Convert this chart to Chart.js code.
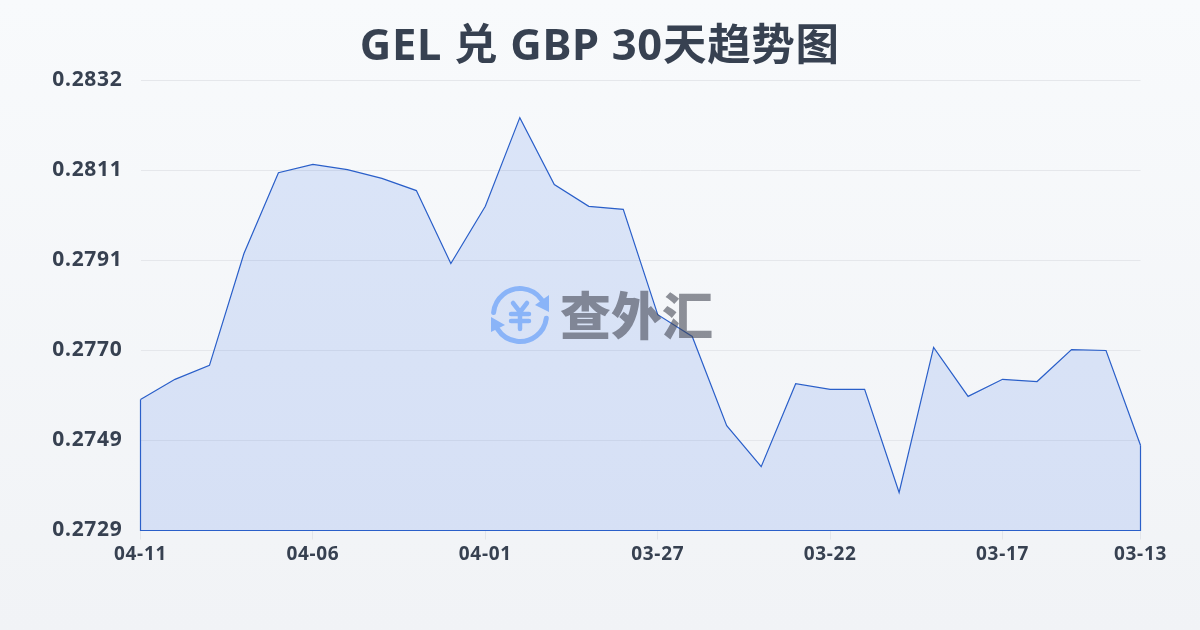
<!DOCTYPE html>
<html>
<head>
<meta charset="utf-8">
<script src="https://cdn.jsdelivr.net/npm/chart.js@4"></script>
<style>
    html, body { margin: 0; padding: 0; width: 1200px; height: 630px; overflow: hidden; }
    body { background: linear-gradient(180deg, #f8fafc 0%, #f1f3f6 100%); }
    #wrap { position: relative; width: 1200px; height: 630px; }
</style>
</head>
<body>
<div id="wrap"><canvas id="rate-chart" width="1200" height="630"></canvas></div>
<script>
    const titleText = 'GEL 兑 GBP 30天趋势图';
    const dates = ['04-11', '04-10', '04-09', '04-08', '04-07', '04-06', '04-05', '04-04', '04-03', '04-02',
        '04-01', '03-31', '03-30', '03-29', '03-28', '03-27', '03-26', '03-25', '03-24', '03-23',
        '03-22', '03-21', '03-20', '03-19', '03-18', '03-17', '03-16', '03-15', '03-14', '03-13'];
    const rates = [0.27590, 0.27636, 0.27668, 0.27924, 0.28109, 0.28128, 0.28116, 0.28096, 0.28068, 0.27901,
        0.28032, 0.28235, 0.28082, 0.28032, 0.28025, 0.27784, 0.27734, 0.27530, 0.27436, 0.27626,
        0.27613, 0.27613, 0.27377, 0.27709, 0.27597, 0.27636, 0.27631, 0.27704, 0.27702, 0.27485];
    const xTickLabels = ['04-11', '04-06', '04-01', '03-27', '03-22', '03-17', '03-13'];
    const yTickLabels = ['0.2729', '0.2749', '0.2770', '0.2791', '0.2811', '0.2832'];
    const yMin = 0.2729;
    const yMax = 0.2832;

    const FONT = "'Noto Sans', 'Noto Sans CJK SC', sans-serif";
    const LINE = '#2a5fc9';

    const setupPlugin = {
        id: 'setup',
        beforeDraw(chart) {
            // reference text runs slightly wider than the plain font
            chart.ctx.letterSpacing = '0.7px';
            // tick labels get clipped to the axis box, so let it reach the page edge
            chart.scales.y.left = 0;
        },
    };

    // closes the area outline: down the sides and along the baseline
    const outlinePlugin = {
        id: 'outline',
        afterDatasetsDraw(chart) {
            const pts = chart.getDatasetMeta(0).data;
            const base = chart.scales.y.bottom;
            const c = chart.ctx;
            c.save();
            c.strokeStyle = LINE;
            c.lineWidth = 1.2;
            c.beginPath();
            c.moveTo(pts[0].x, pts[0].y);
            c.lineTo(pts[0].x, base);
            c.lineTo(pts[pts.length - 1].x, base);
            c.lineTo(pts[pts.length - 1].x, pts[pts.length - 1].y);
            c.stroke();
            c.restore();
        },
    };

    // site watermark, centre of the plot
    const watermarkPlugin = {
        id: 'watermark',
        afterDatasetsDraw(chart) {
            const c = chart.ctx;
            c.save();
            c.letterSpacing = '0px';
            c.globalAlpha = 0.58;
            c.fillStyle = '#3f4450';
            c.font = "900 51px 'Noto Sans CJK SC'";
            c.textAlign = 'left';
            c.textBaseline = 'middle';
            c.fillText('查外汇', 560, 316);
            c.restore();

            c.save();
            c.strokeStyle = '#8ab4f8';
            c.fillStyle = '#8ab4f8';
            c.lineWidth = 5;
            c.lineCap = 'round';
            c.beginPath();
            c.arc(520, 315, 26.5, Math.PI * 1.03, Math.PI * 1.8);
            c.stroke();
            c.beginPath();
            c.arc(520, 315, 26.5, Math.PI * 0.04, Math.PI * 0.82);
            c.stroke();
            c.beginPath();
            c.moveTo(549, 295); c.lineTo(549, 312); c.lineTo(535, 305);
            c.closePath(); c.fill();
            c.beginPath();
            c.moveTo(491, 317); c.lineTo(491, 332); c.lineTo(505, 325);
            c.closePath(); c.fill();
            c.lineWidth = 4.5;
            c.beginPath();
            c.moveTo(513, 303); c.lineTo(520, 312); c.lineTo(527, 303);
            c.moveTo(511, 314); c.lineTo(529, 314);
            c.moveTo(511, 321); c.lineTo(529, 321);
            c.moveTo(520, 312); c.lineTo(520, 329);
            c.stroke();
            c.restore();
        },
    };

    new Chart(document.getElementById('rate-chart'), {
        type: 'line',
        data: {
            labels: dates,
            datasets: [{
                data: rates,
                borderColor: LINE,
                borderWidth: 1.2,
                backgroundColor: 'rgba(37,99,235,0.135)',
                fill: 'start',
                tension: 0,
                pointRadius: 0,
            }],
        },
        plugins: [setupPlugin, watermarkPlugin, outlinePlugin],
        options: {
            responsive: false,
            animation: false,
            // equal side padding keeps the title centred on the page
            layout: { autoPadding: false, padding: { left: 59, right: 59.5, top: 0, bottom: 0 } },
            plugins: {
                legend: { display: false },
                tooltip: { enabled: false },
                title: {
                    display: true,
                    text: titleText,
                    color: '#374151',
                    font: { family: FONT, size: 43.5, weight: '700', lineHeight: 1.2 },
                    padding: { top: 22, bottom: 6.3 },
                },
            },
            scales: {
                x: {
                    offset: false,
                    afterFit: s => { s.height = 99.5; },
                    afterBuildTicks: s => {
                        s.ticks = s.ticks.filter(t => xTickLabels.includes(dates[t.value]));
                    },
                    grid: { drawOnChartArea: false, drawTicks: true, tickLength: 9, color: '#e2e5ea' },
                    border: { display: false },
                    ticks: {
                        autoSkip: false,
                        maxRotation: 0,
                        padding: 4,
                        color: '#374151',
                        font: { family: FONT, size: 19, weight: '700' },
                    },
                },
                y: {
                    min: yMin,
                    max: yMax,
                    afterFit: s => { s.width = 81.5; },
                    afterBuildTicks: s => {
                        s.ticks = yTickLabels.map((_, i) => ({ value: yMin + (yMax - yMin) * i / (yTickLabels.length - 1) }));
                    },
                    afterTickToLabelConversion: s => {
                        s.ticks.forEach((t, i) => { t.label = yTickLabels[i]; });
                    },
                    grid: { drawTicks: false, color: '#e5e7eb' },
                    border: { display: false },
                    ticks: {
                        padding: 18,
                        color: '#374151',
                        font: { family: FONT, size: 21, weight: '700' },
                    },
                },
            },
        },
    });
</script>
</body>
</html>
